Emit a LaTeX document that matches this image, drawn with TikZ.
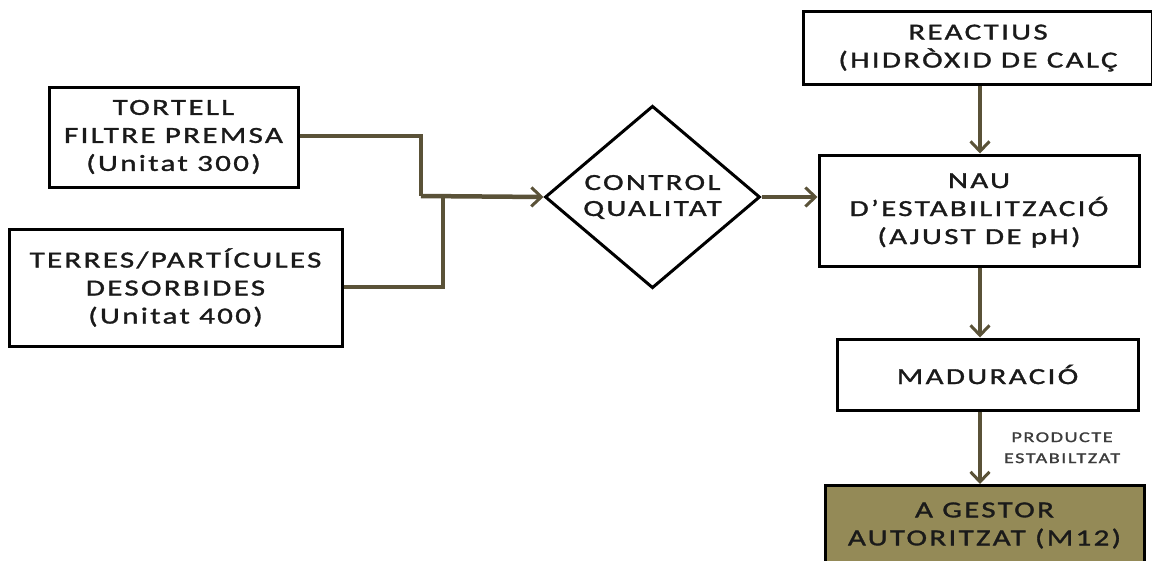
\documentclass[tikz,border=0pt]{standalone}
\usepackage{fontspec}
\setmainfont{Carlito}[FakeStretch=1.35,LetterSpace=10,FakeBold=1.3]
\usetikzlibrary{arrows.meta,shapes.geometric}
\definecolor{flow}{HTML}{5A5238}
\definecolor{olivefill}{HTML}{948A57}
\definecolor{ink}{HTML}{1A1A1A}
\begin{document}
\begin{tikzpicture}[x=1pt,y=-1pt,
  box/.style={draw=black,line width=3pt,fill=white,inner sep=0pt,
    font=\fontsize{23}{28}\selectfont,text=ink,align=center},
  flowline/.style={draw=flow,line width=3.2pt},
  flowarrow/.style={flowline,-{Straight Barb[length=10pt,width=19pt,line width=3pt]}}
]
\useasboundingbox (0,0) rectangle (1152,560);

% source boxes
\node[box,minimum width=249pt,minimum height=100pt] (tortell) at (173.5,137)
  {TORTELL\\FILTRE PREMSA\\(Unitat 300)};
\node[box,minimum width=333pt,minimum height=117pt] (terres) at (175.5,287.5)
  {TERRES/PARTÍCULES\\DESORBIDES\\(Unitat 400)};

% quality check
\node[draw=black,line width=3pt,fill=white,diamond,inner sep=0pt,
  minimum width=215pt,minimum height=127pt,
  font=\fontsize{23}{26}\selectfont,text=ink,align=center] (control) at (652.5,197)
  {CONTROL\\QUALITAT};

% treatment column
\node[box,minimum width=349pt,minimum height=73pt,anchor=north west] (reactius) at (802,10)
  {REACTIUS\\(HIDRÒXID DE CALÇ};
\node[box,minimum width=320pt,minimum height=111pt] (nau) at (979,210.5)
  {NAU\\D’ESTABILITZACIÓ\\(AJUST DE pH)};
\node[box,minimum width=301pt,minimum height=71pt] (madur) at (987.5,374.5)
  {MADURACIÓ};
\node[box,fill=olivefill,minimum width=319pt,minimum height=80pt,anchor=north] (gestor) at (984.5,484)
  {A GESTOR\\AUTORITZAT (M12)};

% junction points of the merging lines
\coordinate (j1) at (421,196);
\coordinate (j2) at (443,196);

\draw[flowline] (tortell.east |- 0,136) -| (j1);
\draw[flowline] (terres.east |- 0,287) -| (j2);
\draw[flowarrow,line width=4.5pt] (j1) -- (control.west);
\draw[flowarrow] (control.east) -- (nau.west |- control.east);
\draw[flowarrow] (reactius.south -| 980,0) -- (nau.north -| 980,0);
\draw[flowarrow] (nau.south -| 980,0) -- (madur.north -| 980,0);
\draw[flowarrow] (madur.south -| 980,0) -- node[right=19pt,font=\fontsize{15}{21}\selectfont,text=ink!85,align=center]
  {PRODUCTE\\ESTABILTZAT} (gestor.north -| 980,0);
\end{tikzpicture}
\end{document}
